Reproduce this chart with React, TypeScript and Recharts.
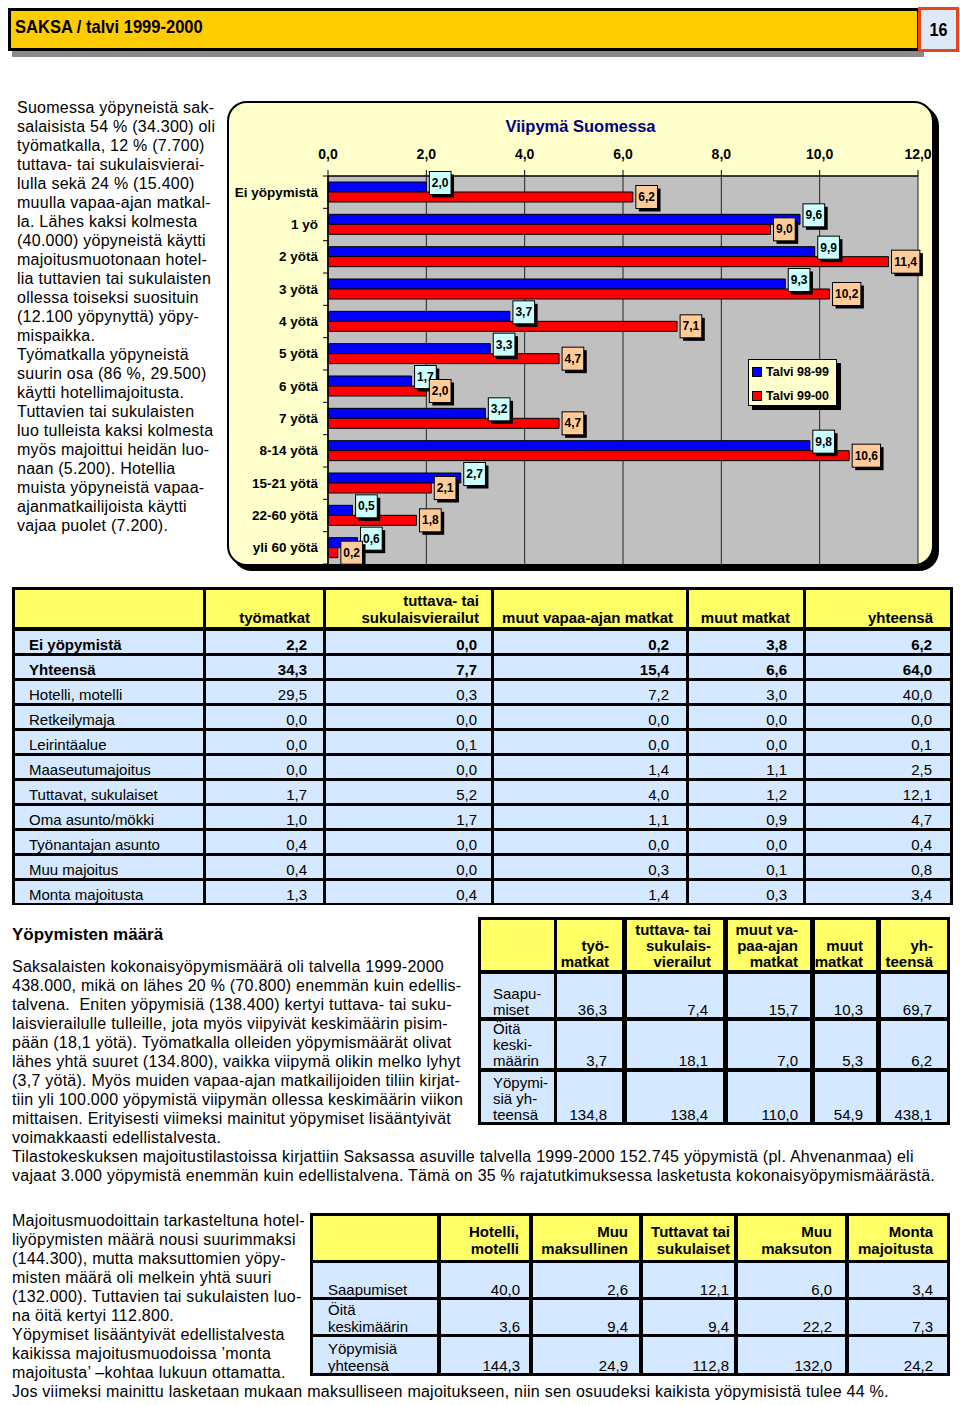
import { Bar, BarChart, CartesianGrid, Legend, XAxis, YAxis } from 'recharts'

const FONT = '"Liberation Sans", Arial, Helvetica, sans-serif'

// Viipymä Suomessa (yötä keskimäärin)
const categories = [
  'Ei yöpymistä',
  '1 yö',
  '2 yötä',
  '3 yötä',
  '4 yötä',
  '5 yötä',
  '6 yötä',
  '7 yötä',
  '8-14 yötä',
  '15-21 yötä',
  '22-60 yötä',
  'yli 60 yötä',
]
const talvi9899 = [2.0, 9.6, 9.9, 9.3, 3.7, 3.3, 1.7, 3.2, 9.8, 2.7, 0.5, 0.6]
const talvi9900 = [6.2, 9.0, 11.4, 10.2, 7.1, 4.7, 2.0, 4.7, 10.6, 2.1, 1.8, 0.2]
const xTicks = [0, 2, 4, 6, 8, 10, 12]

// saapumiset matkan tarkoituksen ja majoitusmuodon mukaan (1000)
const t1Labels = [
  'Ei yöpymistä',
  'Yhteensä',
  'Hotelli, motelli',
  'Retkeilymaja',
  'Leirintäalue',
  'Maaseutumajoitus',
  'Tuttavat, sukulaiset',
  'Oma asunto/mökki',
  'Työnantajan asunto',
  'Muu majoitus',
  'Monta majoitusta',
]
const t1Heads = ['työmatkat', 'tuttava- tai\nsukulaisvierailut', 'muut vapaa-ajan matkat', 'muut matkat', 'yhteensä']
const t1Tyomatkat = [2.2, 34.3, 29.5, 0.0, 0.0, 0.0, 1.7, 1.0, 0.4, 0.4, 1.3]
const t1Tuttava = [0.0, 7.7, 0.3, 0.0, 0.1, 0.0, 5.2, 1.7, 0.0, 0.0, 0.4]
const t1MuutVapaa = [0.2, 15.4, 7.2, 0.0, 0.0, 1.4, 4.0, 1.1, 0.0, 0.3, 1.4]
const t1Muut = [3.8, 6.6, 3.0, 0.0, 0.0, 1.1, 1.2, 0.9, 0.0, 0.1, 0.3]
const t1Yhteensa = [6.2, 64.0, 40.0, 0.0, 0.1, 2.5, 12.1, 4.7, 0.4, 0.8, 3.4]

// matkan tarkoitus
const t2Labels = ['Saapu-\nmiset', 'Öitä\nkeski-\nmäärin', 'Yöpymi-\nsiä yh-\nteensä']
const t2Heads = ['työ-\nmatkat', 'tuttava- tai\nsukulais-\nvierailut', 'muut va-\npaa-ajan\nmatkat', 'muut\nmatkat', 'yh-\nteensä']
const t2Tyo = [36.3, 3.7, 134.8]
const t2Tuttava = [7.4, 18.1, 138.4]
const t2MuutVapaa = [15.7, 7.0, 110.0]
const t2Muut = [10.3, 5.3, 54.9]
const t2Yht = [69.7, 6.2, 438.1]

// majoitusmuoto
const t3Labels = ['Saapumiset', 'Öitä\nkeskimäärin', 'Yöpymisiä\nyhteensä']
const t3Heads = ['Hotelli,\nmotelli', 'Muu\nmaksullinen', 'Tuttavat tai\nsukulaiset', 'Muu\nmaksuton', 'Monta\nmajoitusta']
const t3Hotelli = [40.0, 3.6, 144.3]
const t3MuuMaksullinen = [2.6, 9.4, 24.9]
const t3Tuttavat = [12.1, 9.4, 112.8]
const t3MuuMaksuton = [6.0, 22.2, 132.0]
const t3Monta = [3.4, 7.3, 24.2]

const introLines = [
  'Suomessa yöpyneistä sak-',
  'salaisista 54 % (34.300) oli',
  'työmatkalla, 12 % (7.700)',
  'tuttava- tai sukulaisvierai-',
  'lulla sekä 24 % (15.400)',
  'muulla vapaa-ajan matkal-',
  'la. Lähes kaksi kolmesta',
  '(40.000) yöpyneistä käytti',
  'majoitusmuotonaan hotel-',
  'lia tuttavien tai sukulaisten',
  'ollessa toiseksi suosituin',
  '(12.100 yöpynyttä) yöpy-',
  'mispaikka.',
  'Työmatkalla yöpyneistä',
  'suurin osa (86 %, 29.500)',
  'käytti hotellimajoitusta.',
  'Tuttavien tai sukulaisten',
  'luo tulleista kaksi kolmesta',
  'myös majoittui heidän luo-',
  'naan (5.200). Hotellia',
  'muista yöpyneistä vapaa-',
  'ajanmatkailijoista käytti',
  'vajaa puolet (7.200).',
]

const countLines = [
  'Saksalaisten kokonaisyöpymismäärä oli talvella 1999-2000',
  '438.000, mikä on lähes 20 % (70.800) enemmän kuin edellis-',
  'talvena.  Eniten yöpymisiä (138.400) kertyi tuttava- tai suku-',
  'laisvierailulle tulleille, jota myös viipyivät keskimäärin pisim-',
  'pään (18,1 yötä). Työmatkalla olleiden yöpymismäärät olivat',
  'lähes yhtä suuret (134.800), vaikka viipymä olikin melko lyhyt',
  '(3,7 yötä). Myös muiden vapaa-ajan matkailijoiden tiliin kirjat-',
  'tiin yli 100.000 yöpymistä viipymän ollessa keskimäärin viikon',
  'mittaisen. Erityisesti viimeksi mainitut yöpymiset lisääntyivät',
  'voimakkaasti edellistalvesta.',
  'Tilastokeskuksen majoitustilastoissa kirjattiin Saksassa asuville talvella 1999-2000 152.745 yöpymistä (pl. Ahvenanmaa) eli',
  'vajaat 3.000 yöpymistä enemmän kuin edellistalvena. Tämä on 35 % rajatutkimuksessa lasketusta kokonaisyöpymismäärästä.',
]

const lodgingLines = [
  'Majoitusmuodoittain tarkasteltuna hotel-',
  'liyöpymisten määrä nousi suurimmaksi',
  '(144.300), mutta maksuttomien yöpy-',
  'misten määrä oli melkein yhtä suuri',
  '(132.000). Tuttavien tai sukulaisten luo-',
  'na öitä kertyi 112.800.',
  'Yöpymiset lisääntyivät edellistalvesta',
  'kaikissa majoitusmuodoissa \u2019monta',
  'majoitusta\u2019 \u2013kohtaa lukuun ottamatta.',
  'Jos viimeksi mainittu lasketaan mukaan maksulliseen majoitukseen, niin sen osuudeksi kaikista yöpymisistä tulee 44 %.',
]

const chartData = categories.map((cat, i) => ({ cat, a: talvi9899[i], b: talvi9900[i] }))

const fmt = (v: number) => v.toFixed(1).replace('.', ',')

const CHART_W = 705
const CHART_H = 463
const MARGIN = { top: 44, right: 15, bottom: 1, left: 5 }
const X_AXIS_H = 30
const PLOT_H = CHART_H - MARGIN.top - X_AXIS_H - MARGIN.bottom
const HALF_BAND = PLOT_H / categories.length / 2

function valueLabel(fill: string, lift: number) {
  return (props: any) => {
    const { x, y, width, height, value } = props
    const text = fmt(Number(value))
    const w = text.replace(',', '').length * 6.7 + 8.3
    const h = 23
    const left = Number(x) + Number(width) + 3
    const cy = Number(y) + Number(height) / 2 - lift
    return (
      <g>
        <rect x={left + 3} y={cy - h / 2 + 3} width={w} height={h} fill="#000" />
        <rect x={left} y={cy - h / 2} width={w} height={h} fill={fill} stroke="#000" strokeWidth={1} />
        <text
          x={left + w / 2}
          y={cy}
          textAnchor="middle"
          dominantBaseline="central"
          fontFamily={FONT}
          fontSize={12}
          fontWeight="bold"
          fill="#000"
        >
          {text}
        </text>
      </g>
    )
  }
}

function CategoryTick(props: any) {
  const { x, y, payload, index } = props
  const axisX = Number(x) + 10
  return (
    <g>
      <line x1={axisX - 5} x2={axisX} y1={y - HALF_BAND} y2={y - HALF_BAND} stroke="#000" />
      {index === categories.length - 1 && (
        <line x1={axisX - 5} x2={axisX} y1={y + HALF_BAND} y2={y + HALF_BAND} stroke="#000" />
      )}
      <text
        x={x}
        y={y}
        textAnchor="end"
        dominantBaseline="central"
        fontFamily={FONT}
        fontSize={13.5}
        fontWeight="bold"
        fill="#000"
      >
        {payload.value}
      </text>
    </g>
  )
}

function LegendBox(props: any) {
  const items = props.payload || []
  return (
    <div
      style={{
        position: 'relative',
        width: 89,
        height: 47,
        boxSizing: 'border-box',
        background: '#ffffcc',
        border: '1px solid #000',
        boxShadow: '4px 4px 0 #000',
        fontFamily: FONT,
        fontSize: 12.5,
        fontWeight: 'bold',
        color: '#000',
      }}
    >
      {items.map((p: any, i: number) => (
        <div
          key={p.value}
          style={{ position: 'absolute', left: 3, top: 3 + i * 24, height: 18, display: 'flex', alignItems: 'center' }}
        >
          <span
            style={{
              display: 'inline-block',
              width: 8,
              height: 8,
              background: p.color,
              border: '1px solid #000',
              marginRight: 4,
            }}
          />
          {p.value}
        </div>
      ))}
    </div>
  )
}

function StayChart() {
  return (
    <>
      <div
        style={{
          position: 'absolute',
          left: 227,
          top: 101,
          width: 707,
          height: 465,
          boxSizing: 'border-box',
          border: '2px solid #000',
          borderRadius: 20,
          background: '#ffffcc',
          boxShadow: '5px 5px 0 #000',
        }}
      />
      <div
        style={{
          position: 'absolute',
          left: 228,
          top: 116,
          width: 705,
          textAlign: 'center',
          fontFamily: FONT,
          fontSize: 16.5,
          lineHeight: '20px',
          fontWeight: 'bold',
          color: '#000080',
        }}
      >
        Viipymä Suomessa
      </div>
      <div style={{ position: 'absolute', left: 228, top: 102, width: CHART_W, height: CHART_H }}>
        <BarChart layout="vertical" width={CHART_W} height={CHART_H} data={chartData} margin={MARGIN} barGap={0}>
          <CartesianGrid horizontal={false} stroke="#222" fill="#c0c0c0" fillOpacity={1} />
          <XAxis
            type="number"
            orientation="top"
            domain={[0, 12]}
            ticks={xTicks}
            height={X_AXIS_H}
            tickFormatter={(v: number) => fmt(v)}
            tick={{ fontFamily: FONT, fontSize: 14, fontWeight: 'bold', fill: '#000' }}
            tickSize={6}
            tickMargin={11}
            axisLine={{ stroke: '#000', strokeWidth: 1.5 }}
            tickLine={{ stroke: '#000' }}
            interval={0}
          />
          <YAxis
            type="category"
            dataKey="cat"
            width={95}
            tickSize={5}
            tickMargin={5}
            tickLine={false}
            axisLine={{ stroke: '#000', strokeWidth: 1.5 }}
            tick={<CategoryTick />}
            interval={0}
          />
          <Legend
            layout="horizontal"
            verticalAlign="middle"
            align="center"
            content={<LegendBox />}
            wrapperStyle={{ left: 520, top: 257, width: 95, height: 52 }}
          />
          <Bar
            dataKey="a"
            name="Talvi 98-99"
            fill="#0000ff"
            stroke="#000"
            strokeWidth={1}
            barSize={10}
            isAnimationActive={false}
            label={valueLabel('#ccffff', 4)}
          />
          <Bar
            dataKey="b"
            name="Talvi 99-00"
            fill="#ff0000"
            stroke="#000"
            strokeWidth={1}
            barSize={10}
            isAnimationActive={false}
            label={valueLabel('#ffcc99', 0)}
          />
        </BarChart>
      </div>
    </>
  )
}

type Span = [number, number]

function GridTable(props: {
  outer: [number, number, number, number]
  cols: Span[]
  rows: Span[]
  heads: string[]
  labels: string[]
  values: number[][]
  boldRows: number
  labelPad: number
  headPads: number[]
  valuePads: number[]
  lineHeight: number
  headBottom: number
  rowBottom: number
}) {
  const { outer, cols, rows, heads, labels, values, boldRows, labelPad, headPads, valuePads, lineHeight, headBottom, rowBottom } = props
  const cells: any[] = []
  const cell = (key: string, col: Span, row: Span, bg: string, text: string, align: 'left' | 'right', pad: number, bottom: number, bold: boolean) => {
    cells.push(
      <div
        key={key}
        style={{
          position: 'absolute',
          left: col[0],
          top: row[0],
          width: col[1] - col[0],
          height: row[1] - row[0],
          background: bg,
          overflow: 'hidden',
        }}
      >
        {text && (
          <div
            style={{
              position: 'absolute',
              [align]: pad,
              bottom,
              whiteSpace: 'pre',
              textAlign: align,
              lineHeight: `${lineHeight}px`,
              fontSize: 15,
              fontWeight: bold ? 'bold' : 'normal',
              color: '#000',
            }}
          >
            {text}
          </div>
        )}
      </div>,
    )
  }
  const HEAD = '#ffff66'
  const BODY = '#d4e8ff'
  cell('h0', cols[0], rows[0], HEAD, '', 'left', 0, 0, true)
  heads.forEach((h, c) => cell(`h${c + 1}`, cols[c + 1], rows[0], HEAD, h, 'right', headPads[c], headBottom, true))
  labels.forEach((lab, r) => {
    const bold = r < boldRows
    cell(`l${r}`, cols[0], rows[r + 1], BODY, lab, 'left', labelPad, rowBottom, bold)
    values.forEach((col, c) =>
      cell(`v${r}-${c}`, cols[c + 1], rows[r + 1], BODY, fmt(col[r]), 'right', valuePads[c], rowBottom, bold),
    )
  })
  return (
    <>
      <div
        style={{
          position: 'absolute',
          left: outer[0],
          top: outer[1],
          width: outer[2] - outer[0],
          height: outer[3] - outer[1],
          background: '#000',
        }}
      />
      {cells}
    </>
  )
}

function Lines({ lines, left, top, lh }: { lines: string[]; left: number; top: number; lh: number }) {
  return (
    <div
      style={{
        position: 'absolute',
        left,
        top,
        fontSize: 16,
        letterSpacing: 0.25,
        lineHeight: `${lh}px`,
        color: '#000',
        whiteSpace: 'pre',
      }}
    >
      {lines.map((l, i) => (
        <div key={i}>{l}</div>
      ))}
    </div>
  )
}

const NARROW = '"Liberation Sans Narrow", "Arial Narrow", "Liberation Sans", Arial, sans-serif'

const t1Rows: Span[] = [[590, 627], ...t1Labels.map((_, i) => [631 + i * 25, 653 + i * 25] as Span)]
const t2Rows: Span[] = [[920, 970], [974, 1017], [1021, 1068], [1072, 1122]]
const t3Rows: Span[] = [[1216, 1260], [1263, 1297], [1300, 1334], [1337, 1373]]

export default function App() {
  return (
    <div
      style={{
        position: 'absolute',
        left: 0,
        top: 0,
        width: 960,
        height: 1405,
        background: '#fff',
        fontFamily: FONT,
        overflow: 'hidden',
      }}
    >
      {/* otsikkopalkki */}
      <div
        style={{
          position: 'absolute',
          left: 8,
          top: 8,
          width: 912,
          height: 43,
          boxSizing: 'border-box',
          background: '#ffcc00',
          border: '3px solid #000',
          boxShadow: '4px 6px 0 #8a8a8a',
        }}
      />
      <div
        style={{
          position: 'absolute',
          left: 15,
          top: 16,
          fontFamily: NARROW,
          fontSize: 19,
          lineHeight: '22px',
          fontWeight: 'bold',
          color: '#000',
          whiteSpace: 'pre',
          transform: 'scaleX(0.87)',
          transformOrigin: 'left center',
        }}
      >
        SAKSA / talvi 1999-2000
      </div>
      <div
        style={{
          position: 'absolute',
          left: 918,
          top: 7,
          width: 41,
          height: 45,
          boxSizing: 'border-box',
          background: '#dde9f8',
          border: '3px solid #e8431c',
          display: 'flex',
          alignItems: 'center',
          justifyContent: 'center',
          fontFamily: NARROW,
          fontSize: 19,
          fontWeight: 'bold',
          color: '#000',
        }}
      >
        <span style={{ display: 'inline-block', transform: 'scaleX(0.85)' }}>16</span>
      </div>

      <Lines lines={introLines} left={17} top={98} lh={19} />
      <StayChart />

      <GridTable
        outer={[12, 587, 953, 905]}
        cols={[[15, 203], [206, 323], [326, 491], [494, 686], [689, 803], [806, 950]]}
        rows={t1Rows}
        heads={t1Heads}
        labels={t1Labels}
        values={[t1Tyomatkat, t1Tuttava, t1MuutVapaa, t1Muut, t1Yhteensa]}
        boldRows={2}
        labelPad={14}
        headPads={[13, 12, 13, 13, 17]}
        valuePads={[16, 14, 17, 16, 18]}
        lineHeight={17}
        headBottom={1}
        rowBottom={0}
      />

      <div
        style={{ position: 'absolute', left: 12, top: 925, fontSize: 17, lineHeight: '20px', fontWeight: 'bold', color: '#000' }}
      >
        Yöpymisten määrä
      </div>
      <Lines lines={countLines} left={12} top={957} lh={19} />

      <GridTable
        outer={[478, 917, 950, 1125]}
        cols={[[481, 554], [557, 622], [627, 723], [728, 810], [815, 876], [881, 947]]}
        rows={t2Rows}
        heads={t2Heads}
        labels={t2Labels}
        values={[t2Tyo, t2Tuttava, t2MuutVapaa, t2Muut, t2Yht]}
        boldRows={0}
        labelPad={12}
        headPads={[13, 12, 12, 13, 14]}
        valuePads={[15, 15, 12, 13, 15]}
        lineHeight={16}
        headBottom={0}
        rowBottom={-1}
      />

      <Lines lines={lodgingLines} left={12} top={1211} lh={19} />

      <GridTable
        outer={[310, 1213, 950, 1376]}
        cols={[[313, 437], [441, 529], [533, 639], [643, 734], [738, 845], [849, 947]]}
        rows={t3Rows}
        heads={t3Heads}
        labels={t3Labels}
        values={[t3Hotelli, t3MuuMaksullinen, t3Tuttavat, t3MuuMaksuton, t3Monta]}
        boldRows={0}
        labelPad={15}
        headPads={[10, 11, 4, 13, 14]}
        valuePads={[9, 11, 5, 13, 14]}
        lineHeight={17}
        headBottom={3}
        rowBottom={-1}
      />
    </div>
  )
}
